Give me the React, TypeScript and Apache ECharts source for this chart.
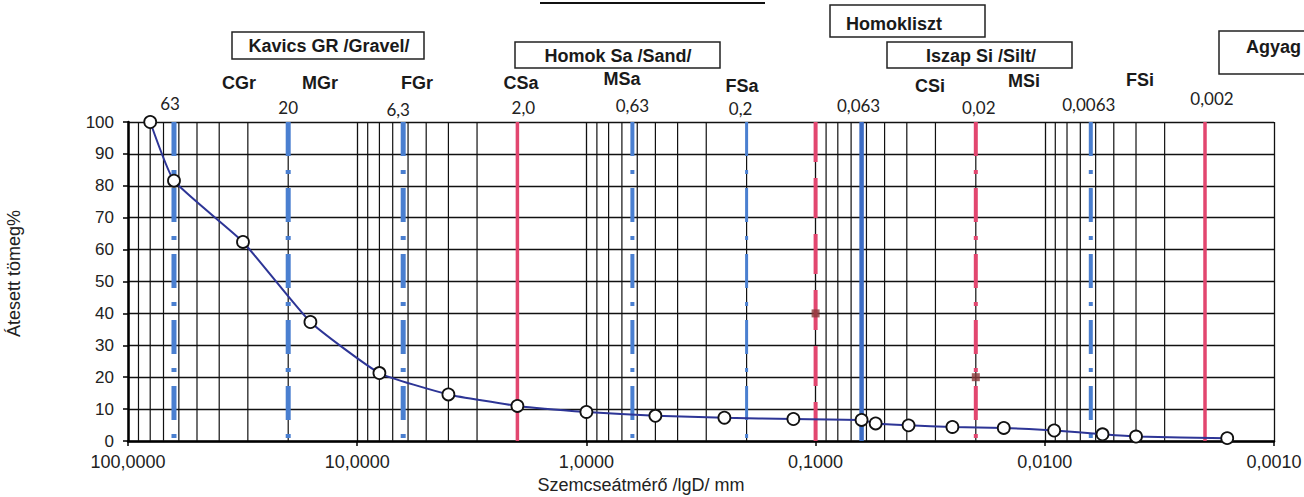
import React, { useEffect, useRef } from "react";
import * as echarts from "echarts";

// Grain size (mm) and passing mass (%)
const grainSizes = [80, 63, 31.5, 16, 8, 4, 2, 1, 0.5, 0.25, 0.125, 0.063, 0.0547, 0.0393, 0.0253, 0.0151, 0.0091, 0.0056, 0.004, 0.0016];
const passing = [100, 81.6, 62.4, 37.3, 21.3, 14.6, 11.0, 9.1, 7.9, 7.3, 6.9, 6.6, 5.5, 4.9, 4.4, 4.1, 3.3, 2.1, 1.4, 0.9];

// Fraction boundaries (mm) and their printed labels
const boundaries = [63, 20, 6.3, 2.0, 0.63, 0.2, 0.1, 0.063, 0.02, 0.0063, 0.002];
const boundaryLabels = ["63", "20", "6,3", "2,0", "0,63", "0,2", "", "0,063", "0,02", "0,0063", "0,002"];

// Marked points on boundary lines
const markSizes = [0.1, 0.02];
const markValues = [40, 20];

// Fraction names
const fractionNames = ["CGr", "MGr", "FGr", "CSa", "MSa", "FSa", "CSi", "MSi", "FSi"];
// Group boxes
const groupNames = ["Kavics GR /Gravel/", "Homok Sa /Sand/", "Homokliszt", "Iszap Si /Silt/", "Agyag"];

const yTicks = [0, 10, 20, 30, 40, 50, 60, 70, 80, 90, 100];
const decades = [0.001, 0.01, 0.1, 1, 10];

// ---- layout (positions only) ----
const numberLabelY = [103, 107, 109, 107, 105, 108, 0, 105, 107, 104, 98];
const numberLabelDX = [-4, 0, -5, 6, 0, -6, 0, -3, 3, -2, 7];
const fractionX = [239, 320, 417, 521, 622, 742, 930, 1024, 1140];
const fractionY = [83, 83, 83, 83, 79, 86, 86, 81, 80];
const groupBoxes = [
  { x: 232, y: 32, w: 192, h: 27, tx: 329, ty: 46, align: "center" },
  { x: 515, y: 42, w: 205, h: 26, tx: 618, ty: 56, align: "center" },
  { x: 830, y: 5, w: 155, h: 32, tx: 846, ty: 24, align: "left" },
  { x: 887, y: 42, w: 185, h: 26, tx: 981, ty: 56, align: "center" },
  { x: 1219, y: 31, w: 100, h: 43, tx: 1246, ty: 47, align: "left" },
];

const RED = "#e2466f";
const BLUE = "#4a7fd0";
const BLUE_SOLID = "#3c6cc4";

function boundaryStyle(v: number) {
  const dashDot = [34, 14, 4, 14];
  if (v === 2.0 || v === 0.002) return { color: RED, width: 3.5, type: "solid" };
  if (v === 0.1) return { color: RED, width: 4, type: [40, 16], dashOffset: 1 };
  if (v === 0.02) return { color: RED, width: 4, type: dashDot, dashOffset: 45 };
  if (v === 0.063) return { color: BLUE_SOLID, width: 4.5, type: "solid" };
  const w = v === 0.2 ? 3 : v === 0.63 || v === 0.0063 ? 4 : 5;
  return { color: BLUE, width: w, type: dashDot, dashOffset: 45 };
}

const FONT = '"Liberation Sans", Arial, sans-serif';

function vLine(v: number, lineStyle: any, z: number) {
  return {
    type: "line",
    data: [
      [v, 0],
      [v, 100],
    ],
    z,
    silent: true,
    symbol: "none",
    showSymbol: false,
    lineStyle,
  };
}

export default function App() {
  const ref = useRef<HTMLDivElement>(null);
  useEffect(() => {
    const chart = echarts.init(ref.current!, null, { renderer: "svg" });
    const minorValues: number[] = [];
    decades.forEach((d) => {
      for (let m = 2; m <= 9; m++) minorValues.push(m * d);
    });
    const lineData = grainSizes.map((g, i) => [g, passing[i]]);
    const markData = markSizes.map((g, i) => [g, markValues[i]]);

    const gridSeries = minorValues.map((v) => vLine(v, { color: "#111", width: 1.2, type: "solid" }, 1));
    const boundarySeries = boundaries.map((v) => vLine(v, boundaryStyle(v), 3));

    chart.setOption({
      animation: false,
      textStyle: { fontFamily: FONT },
      grid: {
        left: 128,
        right: 30,
        top: 122,
        bottom: 56,
        show: false,
        containLabel: false,
        outerBoundsMode: "none",
      },
      xAxis: {
        type: "log",
        logBase: 10,
        min: 0.001,
        max: 100,
        inverse: true,
        name: "Szemcseátmérő /lgD/ mm",
        nameLocation: "middle",
        nameGap: 34,
        nameTextStyle: { fontSize: 18, color: "#222", fontFamily: FONT, padding: [0, 120, 0, 0] },
        axisLine: { show: true, lineStyle: { color: "#000", width: 2.5 } },
        axisTick: { show: true, length: 5, lineStyle: { color: "#000", width: 1.5 } },
        axisLabel: {
          fontSize: 18,
          color: "#222",
          margin: 12,
          fontFamily: FONT,
          formatter: (v: number) => v.toFixed(4).replace(".", ","),
        },
        splitLine: { show: true, lineStyle: { color: "#111", width: 1.3 } },
      },
      yAxis: {
        type: "value",
        min: 0,
        max: 100,
        interval: 10,
        name: "Átesett tömeg%",
        nameLocation: "middle",
        nameGap: 105,
        nameTextStyle: { fontSize: 18, color: "#222", fontFamily: FONT, padding: [0, 0, 0, 16] },
        axisLine: { show: true, lineStyle: { color: "#000", width: 2.5 } },
        axisTick: { show: true, length: 5, lineStyle: { color: "#000", width: 1.5 } },
        axisLabel: {
          fontSize: 17,
          color: "#222",
          margin: 14,
          fontFamily: FONT,
          formatter: (v: number) => (yTicks.includes(v) ? String(v) : ""),
        },
        splitLine: { show: true, lineStyle: { color: "#111", width: 1.3 } },
      },
      series: [
        ...gridSeries,
        ...boundarySeries,
        {
          type: "scatter",
          data: markData,
          z: 4,
          symbol: "rect",
          symbolSize: 8,
          itemStyle: { color: "#8a3a3a" },
        },
        {
          type: "line",
          data: lineData,
          z: 5,
          smooth: 0.15,
          symbol: "circle",
          symbolSize: 12,
          showSymbol: true,
          lineStyle: { color: "#2d3596", width: 2 },
          itemStyle: { color: "#fff", borderColor: "#111", borderWidth: 1.8 },
        },
      ],
    });

    const graphics: any[] = [];
    boundaries.forEach((b, i) => {
      if (!boundaryLabels[i]) return;
      const x = chart.convertToPixel({ xAxisIndex: 0 }, b) as number;
      graphics.push({
        type: "text",
        x: x + numberLabelDX[i],
        y: numberLabelY[i],
        style: {
          text: boundaryLabels[i],
          fill: "#222",
          font: '17px Lato, "Open Sans", sans-serif',
          textAlign: "center",
          verticalAlign: "middle",
        },
      });
    });
    fractionNames.forEach((n, i) => {
      graphics.push({
        type: "text",
        x: fractionX[i],
        y: fractionY[i],
        style: {
          text: n,
          fill: "#1a1a1a",
          font: `bold 18px ${FONT}`,
          textAlign: "center",
          verticalAlign: "middle",
        },
      });
    });
    groupNames.forEach((n, i) => {
      const b = groupBoxes[i];
      graphics.push({
        type: "rect",
        shape: { x: b.x, y: b.y, width: b.w, height: b.h },
        style: { fill: "#fff", stroke: "#222", lineWidth: 1.5 },
      });
      graphics.push({
        type: "text",
        x: b.tx,
        y: b.ty,
        style: {
          text: n,
          fill: "#1a1a1a",
          font: `bold 18px ${FONT}`,
          textAlign: b.align,
          verticalAlign: "middle",
        },
      });
    });
    graphics.push({
      type: "line",
      shape: { x1: 540, y1: 3, x2: 765, y2: 3 },
      style: { stroke: "#111", lineWidth: 2 },
    });
    chart.setOption({ graphic: graphics });

    return () => chart.dispose();
  }, []);
  return (
    <div
      ref={ref}
      style={{ position: "absolute", left: 0, top: 0, width: 1304, height: 497, background: "#fff" }}
    />
  );
}
